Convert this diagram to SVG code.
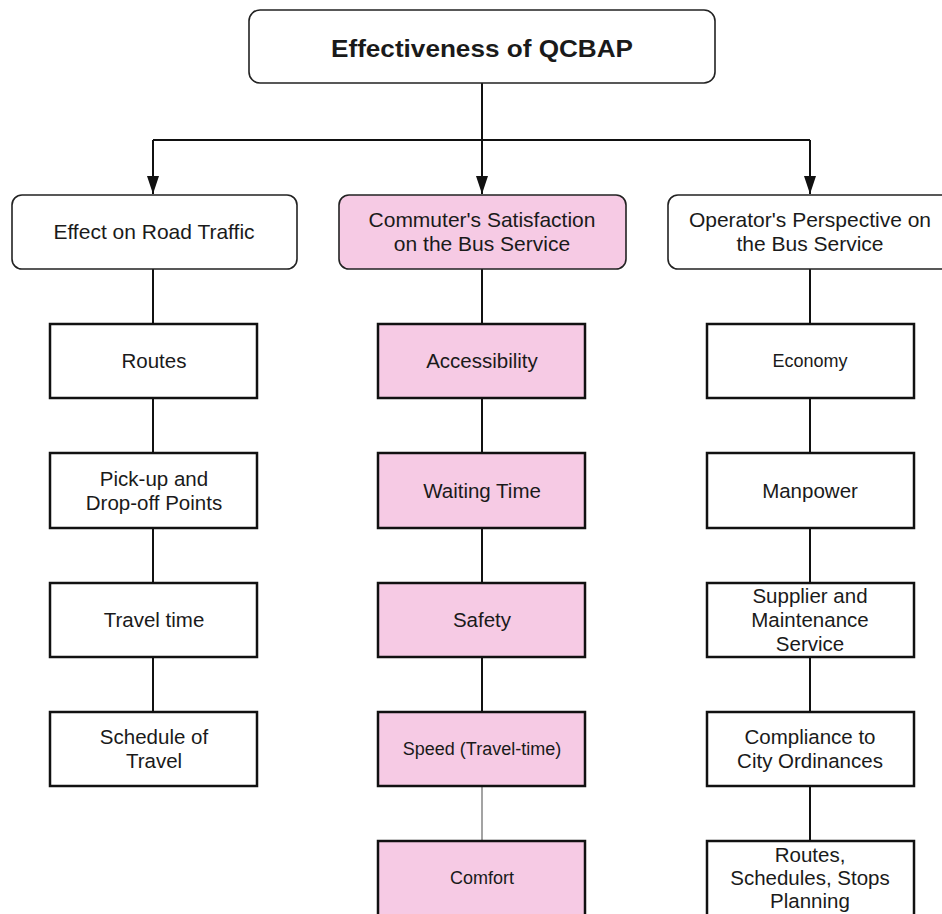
<svg xmlns="http://www.w3.org/2000/svg" width="942" height="914" viewBox="0 0 942 914">
<style>
.box{fill:#ffffff;stroke:#222;stroke-width:1.6}
.pink{fill:#f6cae4}
.sq{stroke:#111;stroke-width:2.5}
.t{font-family:"Liberation Sans",Arial,sans-serif;font-size:20.5px;fill:#1a1a1a;text-anchor:middle}
.m{font-size:21px}
.s{font-size:18px}
.title{font-size:24px;font-weight:bold}
.c{stroke:#111;stroke-width:2;fill:none}
</style>
<defs>
<marker id="ah" viewBox="0 0 12 18" refX="12" refY="9" markerWidth="18" markerHeight="12" markerUnits="userSpaceOnUse" orient="auto">
<path d="M0,0 L18,6 L0,12 z" transform="translate(0,3) scale(0.667,1)" fill="#111"/>
</marker>
<marker id="arr" viewBox="0 0 18 12" refX="18" refY="6" markerWidth="18" markerHeight="12" markerUnits="userSpaceOnUse" orient="auto">
<path d="M0,0 L18,6 L0,12 z" fill="#111"/>
</marker>
</defs>
<rect width="942" height="914" fill="#ffffff"/>
<g id="connectors">
<path class="c" d="M482,83 V140"/>
<path class="c" d="M153,140 H810"/>
<path class="c" d="M153,140 V194" marker-end="url(#arr)"/>
<path class="c" d="M482,140 V194" marker-end="url(#arr)"/>
<path class="c" d="M810,140 V194" marker-end="url(#arr)"/>
<path class="c" d="M153,269 V324 M153,398 V453 M153,528 V583 M153,657 V712"/>
<path class="c" d="M482,269 V324 M482,398 V453 M482,528 V587 M482,657 V712"/>
<path d="M482,786 V841" stroke="#666" stroke-width="1.2" fill="none"/>
<path class="c" d="M810,269 V324 M810,398 V453 M810,528 V583 M810,657 V712 M810,786 V841"/>
</g>
<g id="root"><rect class="box" x="249" y="10" width="466" height="73" rx="11"/><text class="t title" x="482" y="57" textLength="302" lengthAdjust="spacingAndGlyphs">Effectiveness of QCBAP</text></g>
<g id="effect-road"><rect class="box" x="12" y="195" width="285" height="74" rx="10"/><text class="t m" x="154" y="239">Effect on Road Traffic</text></g>
<g id="commuter"><rect class="box pink" x="339" y="195" width="287" height="74" rx="10"/><text class="t m" x="482" y="227">Commuter's Satisfaction</text><text class="t m" x="482" y="251">on the Bus Service</text></g>
<g id="operator"><rect class="box" x="668" y="195" width="287" height="74" rx="10"/><text class="t m" x="810" y="227">Operator's Perspective on</text><text class="t m" x="810" y="251">the Bus Service</text></g>
<g id="routes"><rect class="box sq" x="50" y="324" width="207" height="74"/><text class="t" x="154" y="368">Routes</text></g>
<g id="pickup"><rect class="box sq" x="50" y="453" width="207" height="75"/><text class="t" x="154" y="486">Pick-up and</text><text class="t" x="154" y="510">Drop-off Points</text></g>
<g id="traveltime"><rect class="box sq" x="50" y="583" width="207" height="74"/><text class="t" x="154" y="627">Travel time</text></g>
<g id="schedule"><rect class="box sq" x="50" y="712" width="207" height="74"/><text class="t" x="154" y="744">Schedule of</text><text class="t" x="154" y="768">Travel</text></g>
<g id="accessibility"><rect class="box pink sq" x="378" y="324" width="207" height="74"/><text class="t" x="482" y="368">Accessibility</text></g>
<g id="waiting"><rect class="box pink sq" x="378" y="453" width="207" height="75"/><text class="t" x="482" y="498">Waiting Time</text></g>
<g id="safety"><rect class="box pink sq" x="378" y="583" width="207" height="74"/><text class="t" x="482" y="627">Safety</text></g>
<g id="speed"><rect class="box pink sq" x="378" y="712" width="207" height="74"/><text class="t s" x="482" y="755">Speed (Travel-time)</text></g>
<g id="comfort"><rect class="box pink sq" x="378" y="841" width="207" height="80"/><text class="t s" x="482" y="884">Comfort</text></g>
<g id="economy"><rect class="box sq" x="707" y="324" width="207" height="74"/><text class="t s" x="810" y="367">Economy</text></g>
<g id="manpower"><rect class="box sq" x="707" y="453" width="207" height="75"/><text class="t" x="810" y="498">Manpower</text></g>
<g id="supplier"><rect class="box sq" x="707" y="583" width="207" height="74"/><text class="t" x="810" y="603">Supplier and</text><text class="t" x="810" y="627">Maintenance</text><text class="t" x="810" y="651">Service</text></g>
<g id="compliance"><rect class="box sq" x="707" y="712" width="207" height="74"/><text class="t" x="810" y="744">Compliance to</text><text class="t" x="810" y="768">City Ordinances</text></g>
<g id="planning"><rect class="box sq" x="707" y="841" width="207" height="80"/><text class="t" x="810" y="862">Routes,</text><text class="t" x="810" y="885">Schedules, Stops</text><text class="t" x="810" y="908">Planning</text></g>
</svg>
